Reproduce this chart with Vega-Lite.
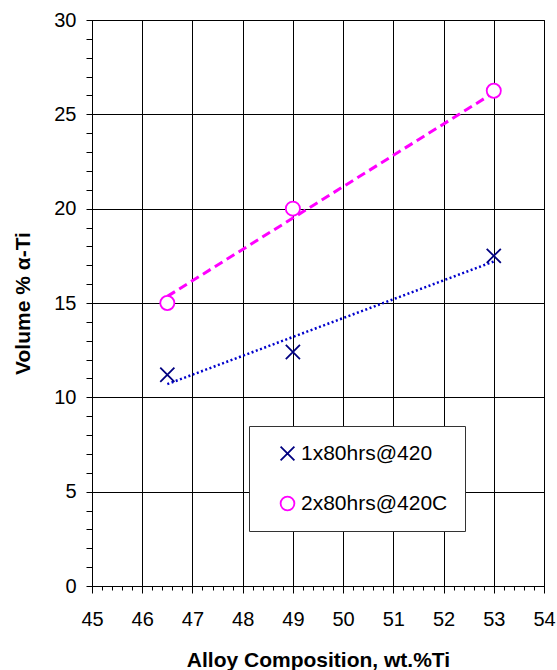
{
  "$schema": "https://vega.github.io/schema/vega-lite/v6.json",
  "autosize": {"type": "none"},
  "padding": {"left": 92, "top": 20, "right": 13, "bottom": 84},
  "width": 452,
  "height": 566,
  "background": "white",
  "config": {
    "view": {"stroke": "black", "strokeWidth": 1},
    "font": "Liberation Sans",
    "axis": {
      "labelFont": "Liberation Sans",
      "labelFontSize": 20,
      "labelColor": "black",
      "titleFont": "Liberation Sans",
      "titleFontSize": 21,
      "titleFontWeight": "bold",
      "titleColor": "black",
      "domainColor": "black",
      "domainWidth": 1,
      "tickColor": "black",
      "tickWidth": 1,
      "gridColor": "black",
      "gridWidth": 1
    }
  },
  "datasets": {
    "points": [
      {"series": "1x80hrs@420", "comp": 46.5, "vol": 11.2},
      {"series": "1x80hrs@420", "comp": 49, "vol": 12.4},
      {"series": "1x80hrs@420", "comp": 53, "vol": 17.5},
      {"series": "2x80hrs@420C", "comp": 46.5, "vol": 15.0},
      {"series": "2x80hrs@420C", "comp": 49, "vol": 20.0},
      {"series": "2x80hrs@420C", "comp": 53, "vol": 26.25}
    ],
    "trend": [
      {"series": "1x80hrs@420", "comp": 46.5, "vol": 10.7},
      {"series": "1x80hrs@420", "comp": 53, "vol": 17.2},
      {"series": "2x80hrs@420C", "comp": 46.5, "vol": 15.35},
      {"series": "2x80hrs@420C", "comp": 53, "vol": 26.15}
    ]
  },
  "encoding": {
    "x": {
      "field": "comp",
      "type": "quantitative",
      "scale": {"domain": [45, 54], "nice": false, "zero": false},
      "axis": {
        "title": "Alloy Composition, wt.%Ti",
        "values": [45,45.2,45.4,45.6,45.8,46,46.2,46.4,46.6,46.8,47,47.2,47.4,47.6,47.8,48,48.2,48.4,48.6,48.8,49,49.2,49.4,49.6,49.8,50,50.2,50.4,50.6,50.8,51,51.2,51.4,51.6,51.8,52,52.2,52.4,52.6,52.8,53,53.2,53.4,53.6,53.8,54],
        "labelExpr": "abs(datum.value - round(datum.value)) < 0.01 ? toString(round(datum.value)) : ''",
        "grid": true,
        "gridOpacity": {"condition": {"test": "abs(datum.value - round(datum.value)) < 0.01", "value": 1}, "value": 0},
        "tickSize": {"condition": {"test": "abs(datum.value - round(datum.value)) < 0.01", "value": 7}, "value": 4},
        "labelPadding": 16,
        "labelFlush": false,
        "labelOverlap": false,
        "titlePadding": 20
      }
    },
    "y": {
      "field": "vol",
      "type": "quantitative",
      "scale": {"domain": [0, 30], "nice": false},
      "axis": {
        "title": "Volume % α-Ti",
        "values": [0,1,2,3,4,5,6,7,8,9,10,11,12,13,14,15,16,17,18,19,20,21,22,23,24,25,26,27,28,29,30],
        "labelExpr": "datum.value % 5 === 0 ? toString(datum.value) : ''",
        "grid": true,
        "gridOpacity": {"condition": {"test": "datum.value % 5 === 0", "value": 1}, "value": 0},
        "tickSize": 6,
        "labelPadding": 10,
        "labelFlush": false,
        "labelOverlap": false,
        "titlePadding": 20
      }
    }
  },
  "layer": [
    {
      "data": {"name": "trend"},
      "transform": [{"filter": "datum.series === '1x80hrs@420'"}],
      "mark": {"type": "line", "color": "#0000CC", "strokeWidth": 2.5, "strokeDash": [2, 2.5]},
      "encoding": {}
    },
    {
      "data": {"name": "trend"},
      "transform": [{"filter": "datum.series === '2x80hrs@420C'"}],
      "mark": {"type": "line", "color": "#FF00FF", "strokeWidth": 3, "strokeDash": [9, 5]},
      "encoding": {}
    },
    {
      "data": {"name": "points"},
      "mark": {"type": "point", "filled": false, "strokeWidth": 1.8, "fill": "white", "fillOpacity": 1},
      "encoding": {
        "color": {
          "field": "series",
          "type": "nominal",
          "scale": {"domain": ["1x80hrs@420", "2x80hrs@420C"], "range": ["#000080", "#FF00FF"]},
          "legend": {
            "title": null,
            "orient": "none",
            "legendX": 157,
            "legendY": 406,
            "padding": 17,
            "strokeColor": "#333333",
            "fillColor": "white",
            "labelFont": "Liberation Sans",
            "labelFontSize": 21,
            "labelColor": "black",
            "labelOffset": 3,
            "rowPadding": 28,
            "symbolOffset": 11,
            "symbolSize": 190,
            "symbolStrokeWidth": 1.8,
            "symbolFillColor": "white"
          }
        },
        "shape": {
          "field": "series",
          "type": "nominal",
          "scale": {"domain": ["1x80hrs@420", "2x80hrs@420C"], "range": ["M-1,-1L1,1M-1,1L1,-1", "circle"]}
        },
        "size": {"value": 200}
      }
    }
  ]
}
